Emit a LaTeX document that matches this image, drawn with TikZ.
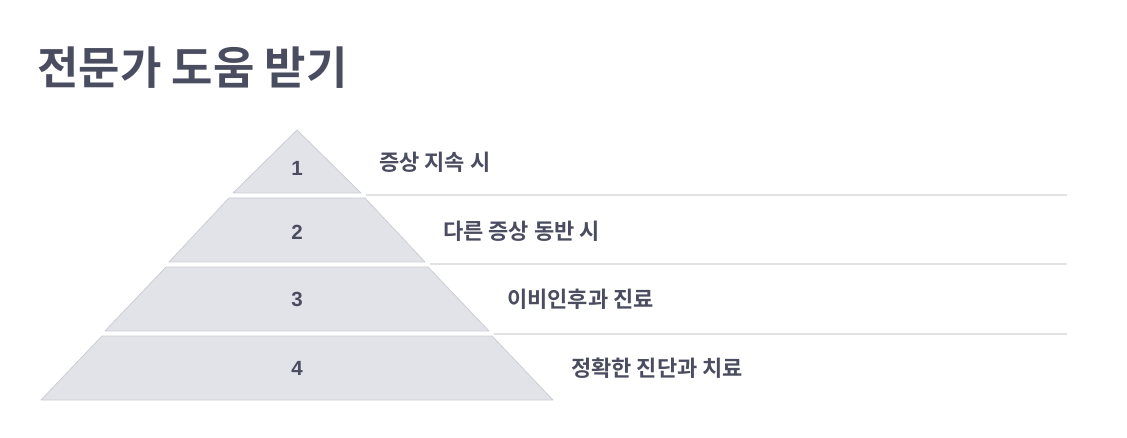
\documentclass[tikz,border=0pt]{standalone}
\usepackage{fontspec}
\setmainfont{Noto Sans CJK KR}
\newfontfamily\krb{Noto Sans CJK KR}[BoldFont=* Bold]
\newfontfamily\digits{Liberation Sans}
\definecolor{txt}{HTML}{4A4D60}
\definecolor{layerfill}{HTML}{E2E3E8}
\definecolor{layerdraw}{HTML}{CDCED5}
\definecolor{sepline}{HTML}{E2E2E5}
\tikzset{
  layer/.style={fill=layerfill, draw=layerdraw, line width=0.8pt, line join=round},
  num/.style={font=\digits\bfseries\fontsize{20.5}{24}\selectfont, text=txt, inner sep=0pt},
  lbl/.style={font=\krb\bfseries\fontsize{22}{26}\selectfont, text=txt, inner sep=0pt, anchor=west},
  sep/.style={draw=sepline, line width=2pt},
}
\begin{document}
\begin{tikzpicture}[x=1pt,y=-1pt]
\useasboundingbox (0,0) rectangle (1127,438);
\node[anchor=west, inner sep=0pt, font=\krb\bfseries\fontsize{45}{54}\selectfont, text=txt] (title) at (37,68) {전문가 도움 받기};
% layers
\draw[layer] (297,130) -- (361,193) -- (233,193) -- cycle;
\draw[layer] (229,198) -- (365,198) -- (425,262) -- (169,262) -- cycle;
\draw[layer] (166,267) -- (428,267) -- (489,331) -- (105,331) -- cycle;
\draw[layer] (102,336) -- (492,336) -- (553,400) -- (41,400) -- cycle;
\node[num] (n1) at (297,168) {1};
\node[num] (n2) at (297,232) {2};
\node[num] (n3) at (297,299) {3};
\node[num] (n4) at (297,368) {4};
% separators
\coordinate (s1a) at (366,195.5); \coordinate (s1b) at (1067,195.5);
\coordinate (s2a) at (430,264.5); \coordinate (s2b) at (1067,264.5);
\coordinate (s3a) at (494,333.5); \coordinate (s3b) at (1067,333.5);
\draw[sep] (s1a) -- (s1b);
\draw[sep] (s2a) -- (s2b);
\draw[sep] (s3a) -- (s3b);
\node[lbl] (l1) at (379,162) {증상 지속 시};
\node[lbl] (l2) at (443,231) {다른 증상 동반 시};
\node[lbl] (l3) at (507,299) {이비인후과 진료};
\node[lbl] (l4) at (571,368) {정확한 진단과 치료};
\end{tikzpicture}
\end{document}
